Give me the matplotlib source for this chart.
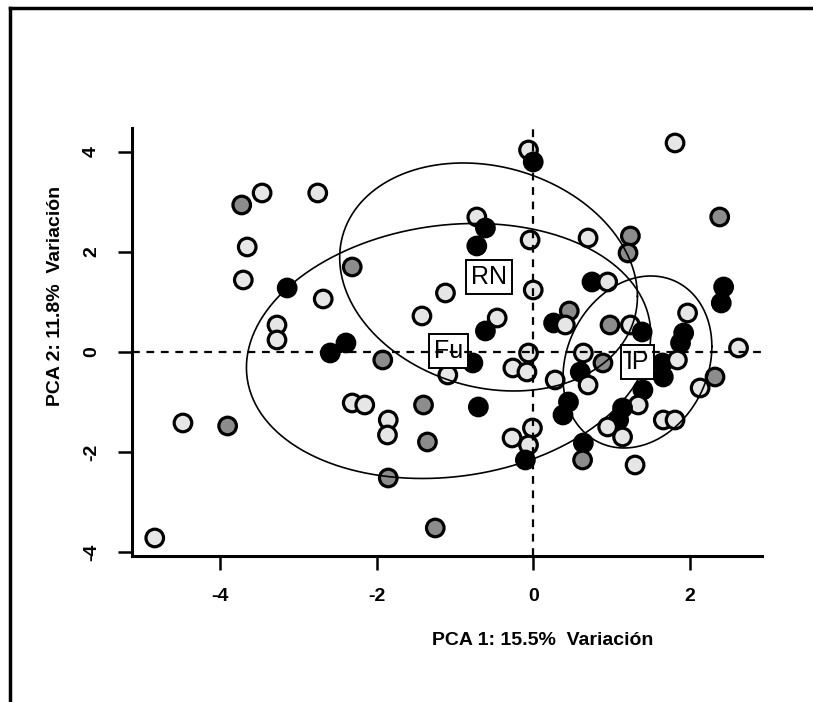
"""PCA scatter with class ellipses (RN, Fu, IP), redrawn from a scanned figure."""

import numpy as np
import matplotlib

matplotlib.use("Agg")
import matplotlib.pyplot as plt
from matplotlib.lines import Line2D

# point scores: PCA 1, PCA 2 and fill class
pc1 = [
    -3.46, -3.72, -2.75, -3.65, -3.70, -3.14, -2.68, -3.27, -3.27, -2.59,
    -2.39, -1.92, -4.47, -3.90, -4.83, -2.31, -0.06, 0.00, -0.72, -0.61,
    -0.72, -0.04, 0.00, -1.12, -1.42, -0.46, -0.61, -0.77, -1.09, -0.06,
    -0.26, -0.08, -2.31, -2.15, -1.40, -0.70, -1.85, -1.86, -1.35, -0.27,
    -0.01, -0.06, -0.10, -1.85, -1.25, 1.81, 2.38, 1.24, 1.21, 0.70,
    0.75, 0.95, 2.43, 2.40, 0.46, 1.97, 0.26, 0.41, 0.98, 1.24,
    1.39, 1.92, 1.88, 0.64, 0.89, 0.60, 0.28, 0.70, 1.65, 1.66,
    1.84, 2.62, 2.32, 2.13, 1.40, 1.34, 0.45, 0.38, 1.14, 1.09,
    0.95, 1.14, 1.66, 1.81, 0.64, 0.63, 1.30,
]
pc2 = [
    3.18, 2.94, 3.18, 2.10, 1.44, 1.28, 1.06, 0.54, 0.24, -0.02,
    0.18, -0.16, -1.42, -1.48, -3.72, 1.70, 4.04, 3.80, 2.70, 2.48,
    2.12, 2.24, 1.24, 1.18, 0.72, 0.68, 0.42, -0.22, -0.46, -0.02,
    -0.32, -0.40, -1.02, -1.06, -1.06, -1.10, -1.36, -1.66, -1.80, -1.72,
    -1.52, -1.86, -2.16, -2.52, -3.52, 4.18, 2.70, 2.32, 1.98, 2.28,
    1.40, 1.40, 1.30, 0.98, 0.82, 0.78, 0.58, 0.54, 0.54, 0.54,
    0.40, 0.38, 0.18, -0.02, -0.22, -0.40, -0.56, -0.66, -0.22, -0.50,
    -0.16, 0.08, -0.50, -0.72, -0.76, -1.06, -1.00, -1.26, -1.12, -1.36,
    -1.50, -1.70, -1.36, -1.36, -1.82, -2.16, -2.26,
]
fill = [
    "W", "G", "W", "W", "W", "B", "W", "W", "W", "B",
    "B", "G", "W", "G", "W", "G", "W", "B", "W", "B",
    "B", "W", "W", "W", "W", "W", "B", "B", "W", "W",
    "W", "W", "W", "W", "G", "B", "W", "W", "G", "W",
    "W", "W", "B", "G", "G", "W", "G", "G", "G", "W",
    "B", "W", "B", "B", "G", "W", "B", "W", "G", "W",
    "B", "B", "B", "W", "G", "B", "W", "W", "B", "B",
    "W", "W", "G", "W", "B", "W", "B", "B", "B", "B",
    "W", "W", "W", "W", "B", "G", "W",
]
fill_colors = {"B": "#000000", "G": "#8c8c8c", "W": "#e6e6e6"}

# class ellipses: centre, spread on each axis and correlation
ell_labels = ["RN", "Fu", "IP"]
ell_cx = [-0.57, -1.08, 1.33]
ell_cy = [1.50, 0.02, -0.20]
ell_sx = [1.90, 2.58, 0.95]
ell_sy = [2.28, 2.55, 1.72]
ell_r = [-0.17, 0.13, 0.18]

x_ticks = [-4, -2, 0, 2]
y_ticks = [-4, -2, 0, 2, 4]
x_label = "PCA 1: 15.5%  Variación"
y_label = "PCA 2: 11.8%  Variación"

plt.rcParams["font.family"] = ["Liberation Sans", "DejaVu Sans"]

fig = plt.figure(figsize=(8.13, 7.02), dpi=100)
ax = fig.add_axes([0.1624, 0.208, 0.7749, 0.6097])

ax.scatter(pc1, pc2, s=160, c=[fill_colors[f] for f in fill],
           edgecolors="black", linewidths=2.3, zorder=2)

t = np.linspace(0, 2 * np.pi, 300)
for lab, cx, cy, sx, sy, r in zip(ell_labels, ell_cx, ell_cy, ell_sx, ell_sy, ell_r):
    d = np.arccos(r)
    ax.plot(cx + sx * np.cos(t), cy + sy * np.cos(t - d), color="black", lw=1.2, zorder=3)
    ax.text(cx, cy, lab, ha="center", va="center", fontsize=18, zorder=4,
            bbox=dict(boxstyle="square,pad=0.2", fc="white", ec="black", lw=1.4))

ax.axhline(0, color="black", lw=1.6, ls=(0, (3.5, 3)), zorder=5)
ax.axvline(0, color="black", lw=1.6, ls=(0, (3.5, 3)), zorder=5)

ax.set_xlim(-5.12, 2.92)
ax.set_ylim(-4.08, 4.48)
for side in ["top", "right"]:
    ax.spines[side].set_visible(False)
for side in ["left", "bottom"]:
    ax.spines[side].set_linewidth(2.2)

ax.set_xticks(x_ticks)
ax.set_xticklabels([str(v) for v in x_ticks], fontweight="bold", fontsize=14)
ax.set_yticks(y_ticks)
ax.set_yticklabels([str(v) for v in y_ticks], fontweight="bold", fontsize=14,
                   rotation=90, va="center")
ax.tick_params(axis="both", length=10, width=1.8, pad=13)

ax.set_xlabel(x_label, fontweight="bold", fontsize=14)
ax.set_ylabel(y_label, fontweight="bold", fontsize=14)
ax.xaxis.set_label_coords(0.652, -0.178)
ax.yaxis.set_label_coords(-0.108, 0.607)

# scan frame: top and left edges of the page box
fig.add_artist(Line2D([0.012, 1.0], [0.988, 0.988], color="black", lw=2.5))
fig.add_artist(Line2D([0.012, 0.012], [0.0, 0.988], color="black", lw=2.5))

fig.savefig("out.png", dpi=100)
